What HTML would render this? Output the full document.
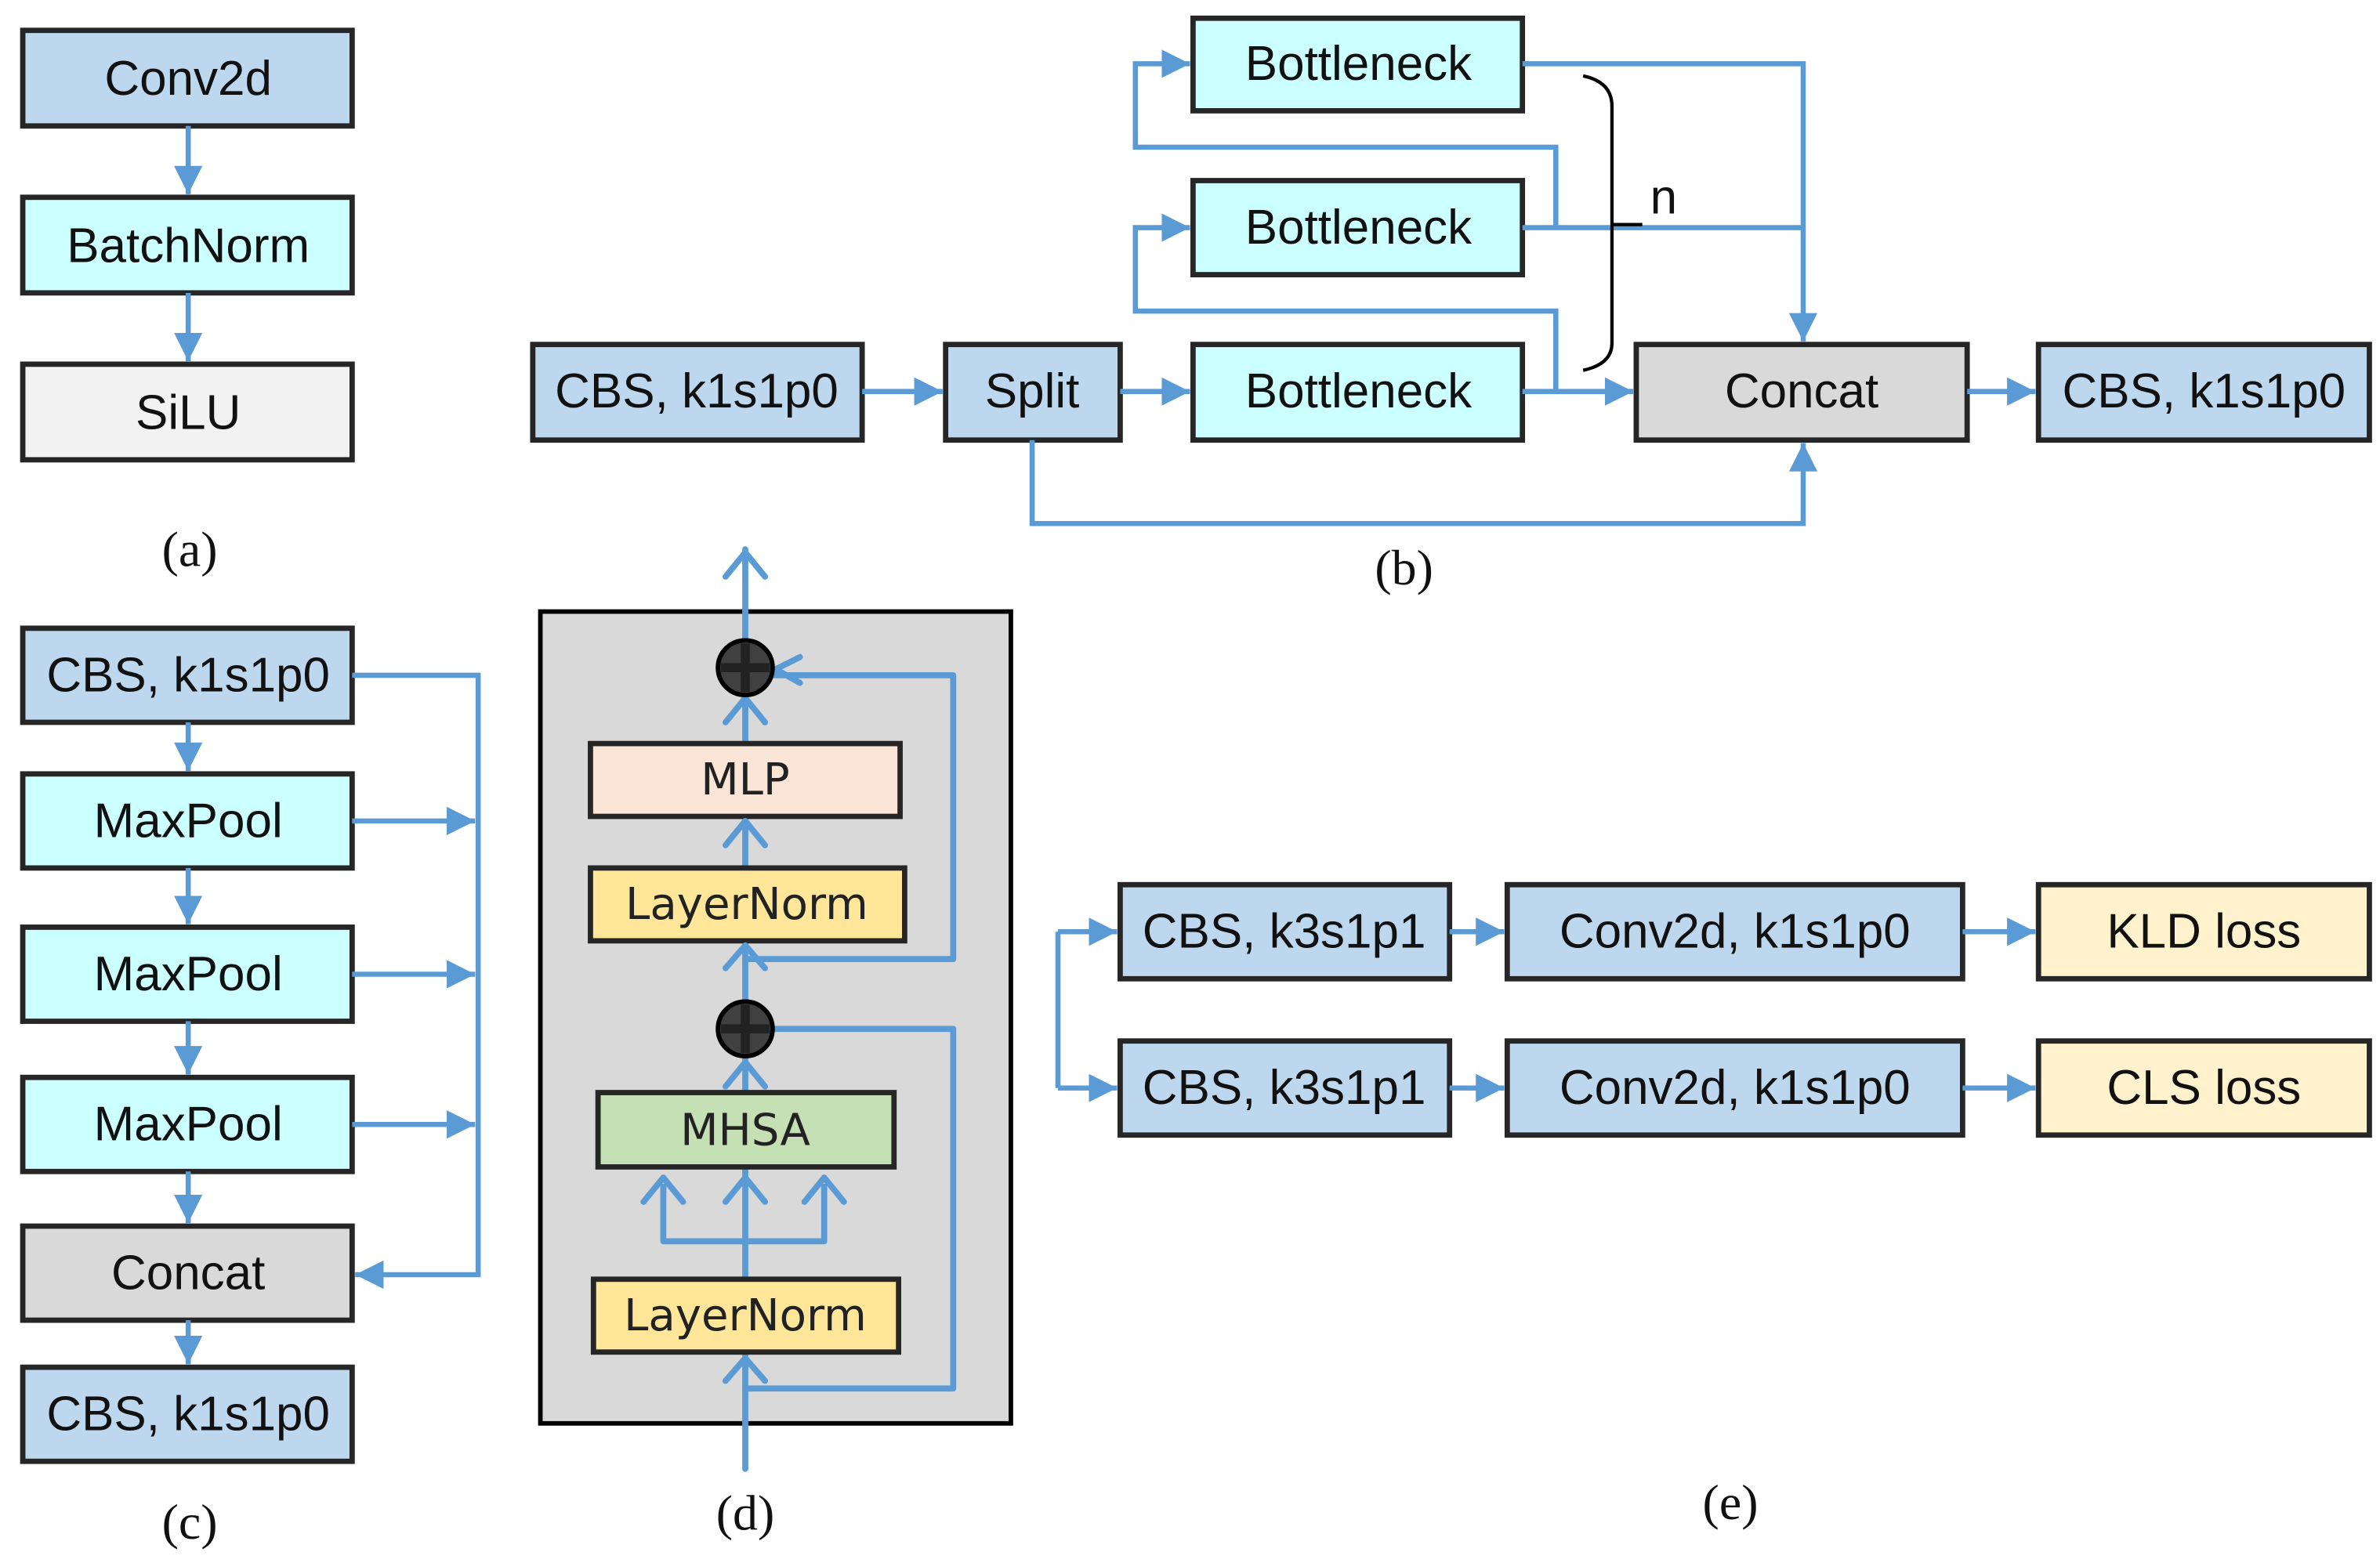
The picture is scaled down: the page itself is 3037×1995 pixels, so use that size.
<!DOCTYPE html>
<html><head><meta charset="utf-8"><style>
html,body{margin:0;padding:0;background:#fff;width:3037px;height:1995px;overflow:hidden}
svg{display:block}
.b{stroke:#262626;stroke-width:3.5}
.t{font-family:"Liberation Sans",sans-serif;font-size:32px;fill:#111;text-anchor:middle;dominant-baseline:central}
.d{font-family:"DejaVu Sans",sans-serif;font-size:29px;fill:#222;text-anchor:middle;dominant-baseline:central}
.l{font-family:"Liberation Serif",serif;font-size:33px;fill:#111;text-anchor:middle;dominant-baseline:central}
.a{stroke:#5b9bd5;stroke-width:3.4;fill:none}
.c{stroke:#5b9bd5;stroke-width:4;fill:none;stroke-linecap:round;stroke-linejoin:round}
</style></head><body>
<svg width="3037" height="1995" viewBox="0 0 1568 1030" xmlns="http://www.w3.org/2000/svg">
<defs>
<marker id="m" viewBox="0 0 10 10" refX="10" refY="5" markerWidth="5.5" markerHeight="5.5" orient="auto" markerUnits="strokeWidth">
<path d="M0,0 L10,5 L0,10 z" fill="#5b9bd5"/></marker>
</defs>
<!-- (a) -->
<rect x="15" y="20" width="217" height="63" fill="#bdd7ee" class="b"/><text class="t" x="124" y="52">Conv2d</text>
<rect x="15" y="130" width="217" height="63" fill="#ccffff" class="b"/><text class="t" x="124" y="162">BatchNorm</text>
<rect x="15" y="240" width="217" height="63" fill="#f2f2f2" class="b"/><text class="t" x="124" y="272">SiLU</text>
<path class="a" d="M124,83 V128" marker-end="url(#m)"/>
<path class="a" d="M124,193 V238" marker-end="url(#m)"/>
<text class="l" x="125" y="362">(a)</text>
<!-- (b) -->
<rect x="351" y="227" width="217" height="63" fill="#bdd7ee" class="b"/><text class="t" x="459" y="258">CBS, k1s1p0</text>
<rect x="623" y="227" width="115" height="63" fill="#bdd7ee" class="b"/><text class="t" x="680" y="258">Split</text>
<rect x="786" y="12" width="217" height="61" fill="#ccffff" class="b"/><text class="t" x="895" y="42">Bottleneck</text>
<rect x="786" y="119" width="217" height="62" fill="#ccffff" class="b"/><text class="t" x="895" y="150">Bottleneck</text>
<rect x="786" y="227" width="217" height="63" fill="#ccffff" class="b"/><text class="t" x="895" y="258">Bottleneck</text>
<rect x="1078" y="227" width="218" height="63" fill="#d9d9d9" class="b"/><text class="t" x="1187" y="258">Concat</text>
<rect x="1343" y="227" width="218" height="63" fill="#bdd7ee" class="b"/><text class="t" x="1452" y="258">CBS, k1s1p0</text>
<path class="a" d="M568,258 H621" marker-end="url(#m)"/>
<path class="a" d="M738,258 H784" marker-end="url(#m)"/>
<path class="a" d="M1003,258 H1076" marker-end="url(#m)"/>
<path class="a" d="M1296,258 H1341" marker-end="url(#m)"/>
<path class="a" d="M680,290 V345 H1188 V292" marker-end="url(#m)"/>
<path class="a" d="M1003,42 H1188 V225" marker-end="url(#m)"/>
<path class="a" d="M1003,150 H1188"/>
<path class="a" d="M1025,150 V97 H748 V42 H784" marker-end="url(#m)"/>
<path class="a" d="M1025,258 V205 H748 V150 H784" marker-end="url(#m)"/>
<path d="M1043,50 Q1062,54 1062,70 V226 Q1062,240 1043,244" stroke="#000" stroke-width="2.2" fill="none"/>
<path d="M1062,148 H1082" stroke="#000" stroke-width="2.2"/>
<text class="t" x="1096" y="130">n</text>
<text class="l" x="925" y="374">(b)</text>
<!-- (c) -->
<rect x="15" y="414" width="217" height="62" fill="#bdd7ee" class="b"/><text class="t" x="124" y="445">CBS, k1s1p0</text>
<rect x="15" y="510" width="217" height="62" fill="#ccffff" class="b"/><text class="t" x="124" y="541">MaxPool</text>
<rect x="15" y="611" width="217" height="62" fill="#ccffff" class="b"/><text class="t" x="124" y="642">MaxPool</text>
<rect x="15" y="710" width="217" height="62" fill="#ccffff" class="b"/><text class="t" x="124" y="741">MaxPool</text>
<rect x="15" y="808" width="217" height="62" fill="#d9d9d9" class="b"/><text class="t" x="124" y="839">Concat</text>
<rect x="15" y="901" width="217" height="62" fill="#bdd7ee" class="b"/><text class="t" x="124" y="932">CBS, k1s1p0</text>
<path class="a" d="M124,476 V508" marker-end="url(#m)"/>
<path class="a" d="M124,572 V609" marker-end="url(#m)"/>
<path class="a" d="M124,673 V708" marker-end="url(#m)"/>
<path class="a" d="M124,772 V806" marker-end="url(#m)"/>
<path class="a" d="M124,870 V899" marker-end="url(#m)"/>
<path class="a" d="M232,445 H315 V840 H234" marker-end="url(#m)"/>
<path class="a" d="M232,541 H313" marker-end="url(#m)"/>
<path class="a" d="M232,642 H313" marker-end="url(#m)"/>
<path class="a" d="M232,741 H313" marker-end="url(#m)"/>
<text class="l" x="125" y="1003">(c)</text>
<!-- (d) -->
<rect x="356" y="403" width="310" height="535" fill="#d9d9d9" stroke="#000" stroke-width="3"/>
<path class="c" d="M491,968 V362"/>
<path class="c" d="M491,915 H628 V678 H509"/>
<path class="c" d="M491,632 H628 V445 H509"/>
<path class="c" d="M437,782 V818 H543 V782"/>
<rect x="389" y="490" width="204" height="48" fill="#fbe5d6" class="b"/><text class="d" x="491" y="514">MLP</text>
<rect x="389" y="572" width="207" height="48" fill="#ffe699" class="b"/><text class="d" x="492" y="596">LayerNorm</text>
<rect x="394" y="720" width="195" height="49" fill="#c5e0b4" class="b"/><text class="d" x="491" y="745">MHSA</text>
<rect x="391" y="843" width="201" height="48" fill="#ffe699" class="b"/><text class="d" x="491" y="867">LayerNorm</text>
<path class="c" d="M478,380 L491,364 L504,380"/>
<path class="c" d="M527,433 L511,441 L527,450"/>
<path class="c" d="M424,792 L437,776 L450,792"/>
<path class="c" d="M530,792 L543,776 L556,792"/>
<path class="c" d="M478,792 L491,776 L504,792"/>
<path class="c" d="M478,910 L491,895 L504,910"/>
<path class="c" d="M478,716 L491,700 L504,716"/>
<path class="c" d="M478,638 L491,623 L504,638"/>
<path class="c" d="M478,557 L491,541 L504,557"/>
<path class="c" d="M478,476 L491,460 L504,476"/>
<circle cx="491" cy="440" r="18" fill="#404040" stroke="#000" stroke-width="3"/>
<path d="M491,424 V456 M475,440 H507" stroke="#222" stroke-width="6"/>
<circle cx="491" cy="678" r="18" fill="#404040" stroke="#000" stroke-width="3"/>
<path d="M491,662 V694 M475,678 H507" stroke="#222" stroke-width="6"/>
<text class="l" x="491" y="997">(d)</text>
<!-- (e) -->
<rect x="738" y="583" width="217" height="62" fill="#bdd7ee" class="b"/><text class="t" x="846" y="614">CBS, k3s1p1</text>
<rect x="993" y="583" width="300" height="62" fill="#bdd7ee" class="b"/><text class="t" x="1143" y="614">Conv2d, k1s1p0</text>
<rect x="1343" y="583" width="218" height="62" fill="#fff2cc" class="b"/><text class="t" x="1452" y="614">KLD loss</text>
<rect x="738" y="686" width="217" height="62" fill="#bdd7ee" class="b"/><text class="t" x="846" y="717">CBS, k3s1p1</text>
<rect x="993" y="686" width="300" height="62" fill="#bdd7ee" class="b"/><text class="t" x="1143" y="717">Conv2d, k1s1p0</text>
<rect x="1343" y="686" width="218" height="62" fill="#fff2cc" class="b"/><text class="t" x="1452" y="717">CLS loss</text>
<path class="a" d="M697,614 V717"/>
<path class="a" d="M697,614 H736" marker-end="url(#m)"/>
<path class="a" d="M697,717 H736" marker-end="url(#m)"/>
<path class="a" d="M955,614 H991" marker-end="url(#m)"/>
<path class="a" d="M955,717 H991" marker-end="url(#m)"/>
<path class="a" d="M1293,614 H1341" marker-end="url(#m)"/>
<path class="a" d="M1293,717 H1341" marker-end="url(#m)"/>
<text class="l" x="1140" y="990">(e)</text>
</svg>
</body></html>
